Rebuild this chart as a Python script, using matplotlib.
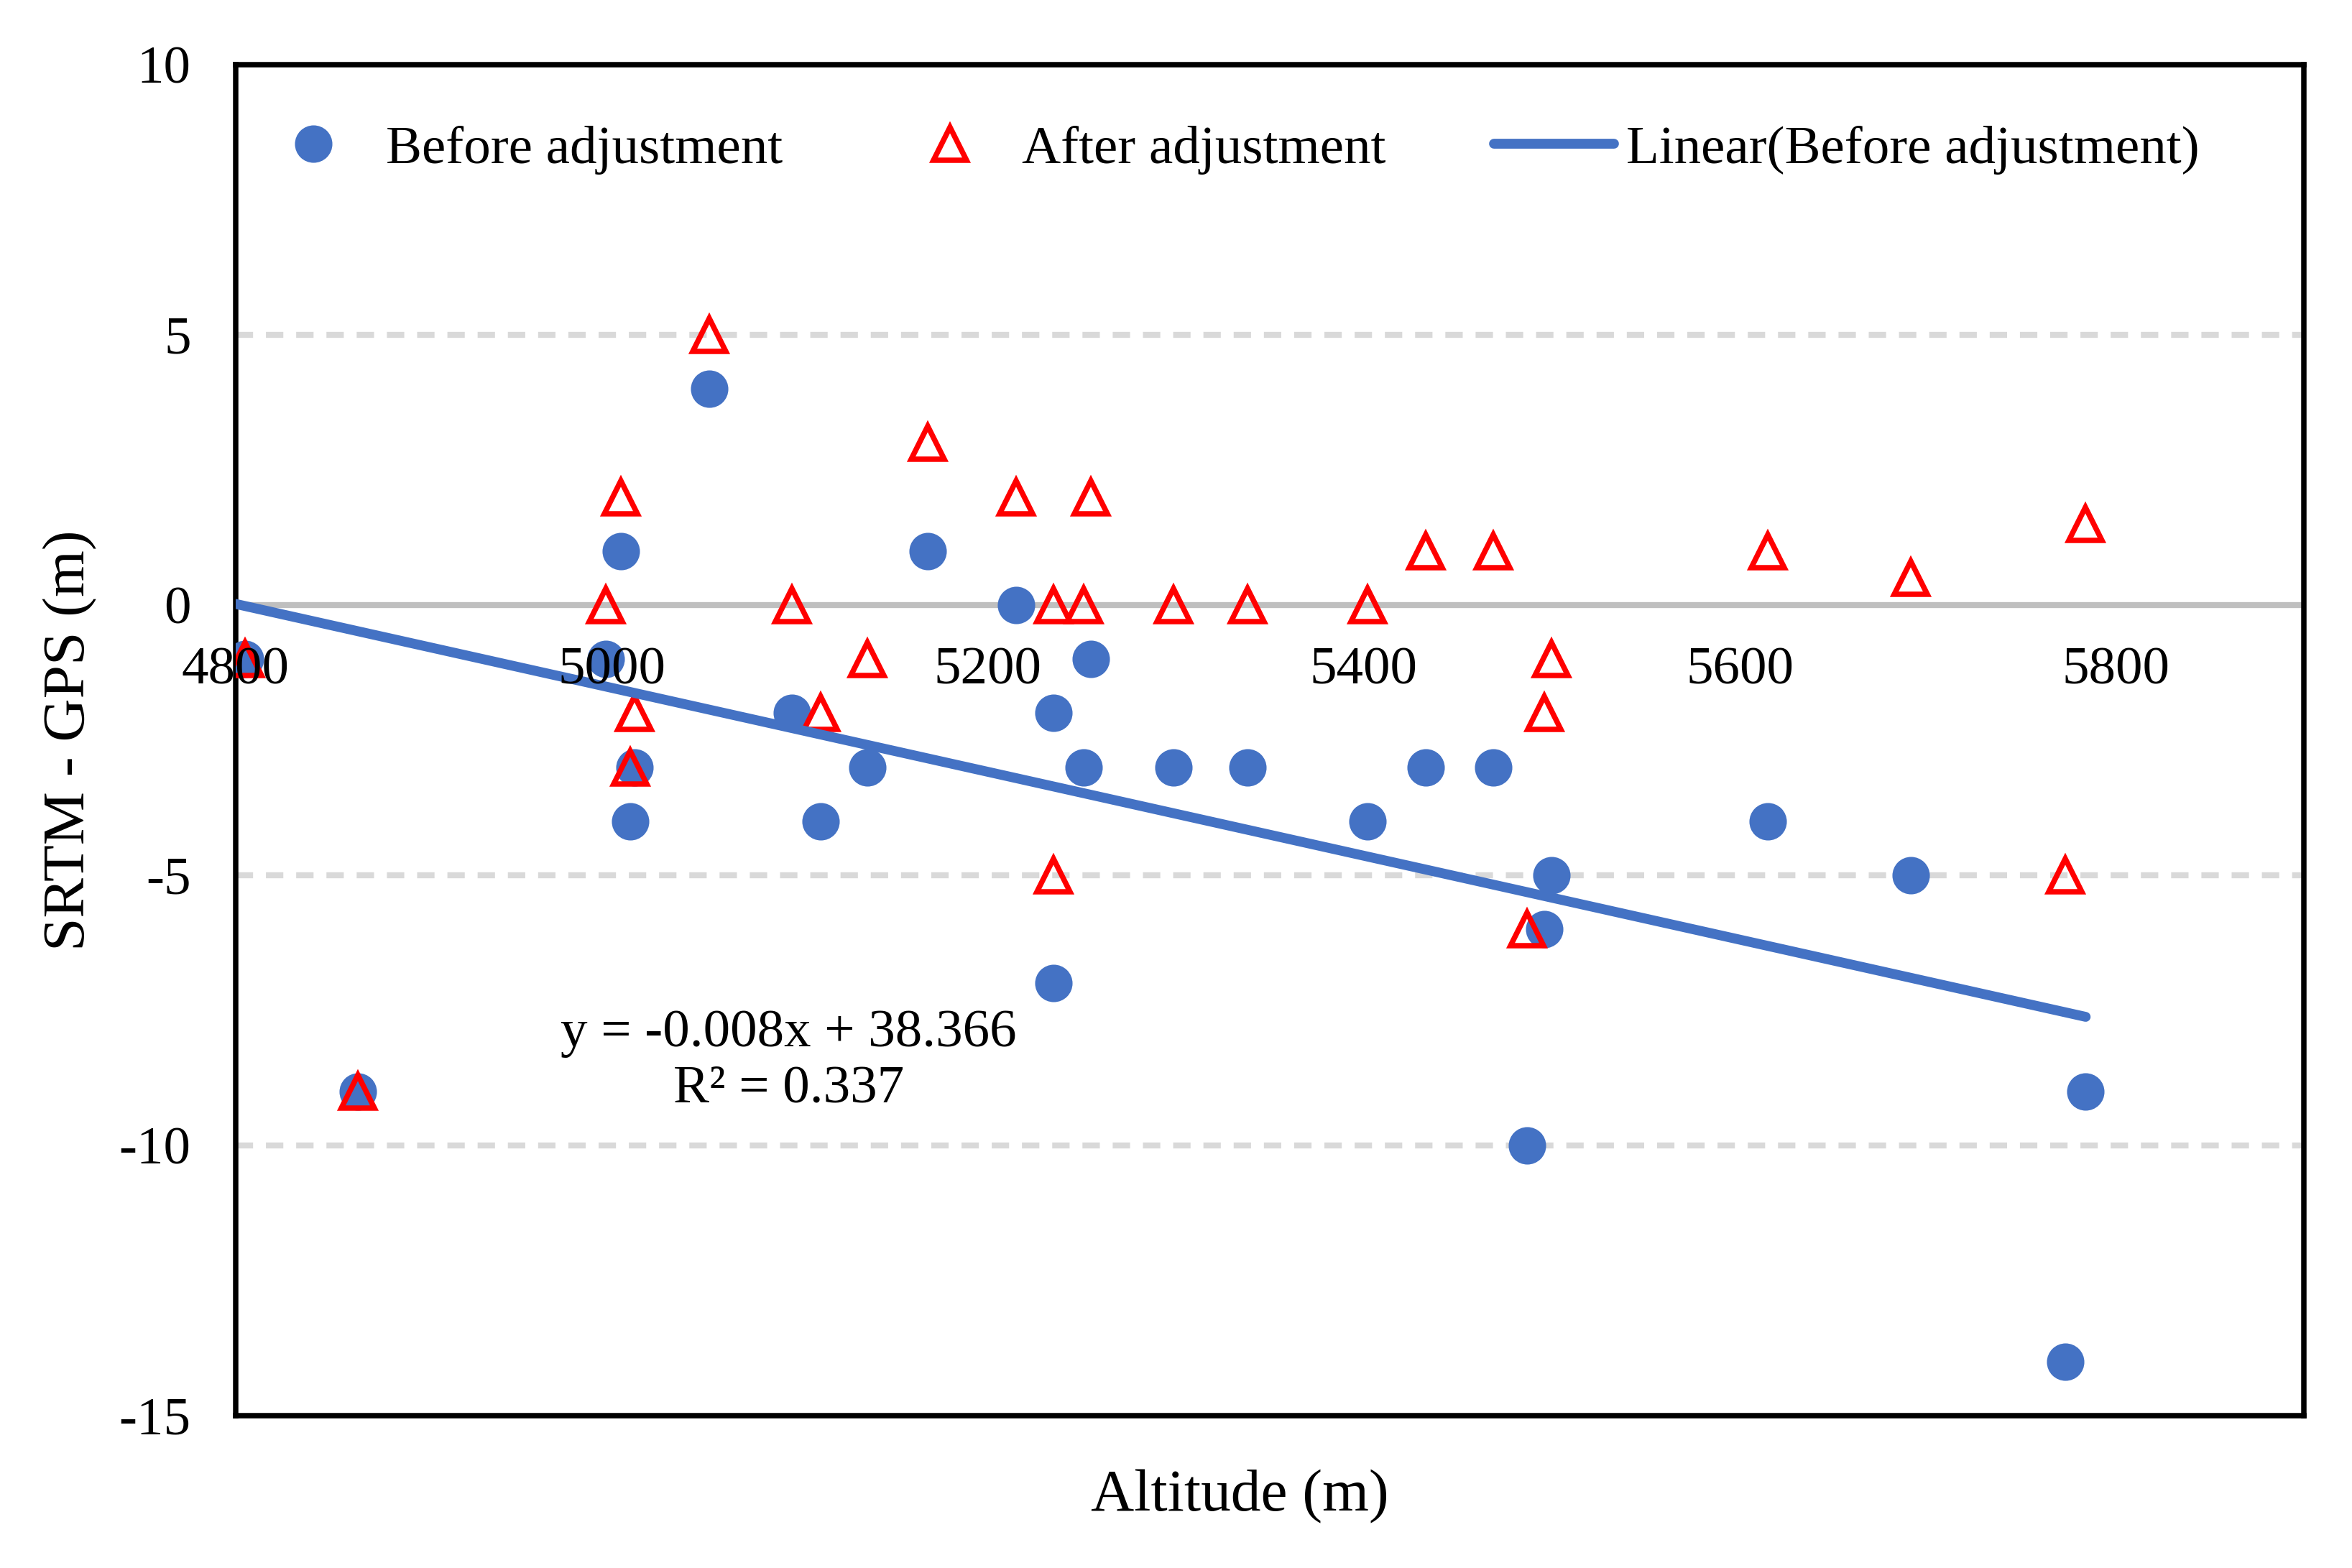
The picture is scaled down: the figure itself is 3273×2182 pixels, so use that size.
import numpy as np
import matplotlib
matplotlib.use("Agg")
import matplotlib.pyplot as plt

plt.rcParams['font.family'] = ['Liberation Serif', 'DejaVu Serif']
plt.rcParams['axes.unicode_minus'] = False

# altitude of each GPS point and SRTM - GPS error before / after adjustment
altitude = [4805, 4865, 4997, 5005, 5010, 5012, 5052, 5096, 5111, 5136,
            5168, 5215, 5235, 5235, 5251, 5255, 5299, 5338, 5402, 5433,
            5469, 5487, 5496, 5500, 5615, 5691, 5773, 5784]
before = [-1, -9, -1, 1, -4, -3, 4, -2, -4, -3,
          1, 0, -2, -7, -3, -1, -3, -3, -4, -3,
          -3, -10, -6, -5, -4, -5, -14, -9]
after = [-1, -9, 0, 2, -3, -2, 5, 0, -2, -1,
         3, 2, 0, -5, 0, 2, 0, 0, 0, 1,
         1, -6, -2, -1, 1, 0.5, -5, 1.5]

xticks = [4800, 5000, 5200, 5400, 5600, 5800]
yticks = [-15, -10, -5, 0, 5, 10]
eq_text = "y = -0.008x + 38.366\nR\u00b2 = 0.337"

blue = '#4472C4'
fs = 18

fig = plt.figure(figsize=(3273 / 300, 2182 / 300), dpi=300)
ax = fig.add_axes([0.1002, 0.0972, 0.8793, 0.8616])
ax.set_xlim(4800, 5900)
ax.set_ylim(-15, 10)

# grid lines: dashed at +-5, -10, solid grey at 0
for yv in yticks[1:-1]:
    if yv == 0:
        ax.axhline(yv, color='#BFBFBF', lw=2, zorder=1)
    else:
        ax.axhline(yv, color='#D9D9D9', lw=2, dashes=(2.9, 2.15), zorder=1)

x = np.array(altitude, dtype=float)
yb = np.array(before, dtype=float)
ax.plot(x, yb, 'o', color=blue, ms=11.5, mec=blue, zorder=3, label='Before adjustment')
ax.plot(x, after, '^', color='red', mfc='none', mec='red', ms=11, mew=1.8, zorder=4,
        label='After adjustment')

# linear trend of the "before" series
k, b = np.polyfit(x, yb, 1)
xs = np.array([ax.get_xlim()[0], x.max()])
ax.plot(xs, k * xs + b, color=blue, lw=3.3, solid_capstyle='round', zorder=5,
        label='Linear(Before adjustment)')

ax.text(5094, -8.45, eq_text, ha='center', va='center', multialignment='center',
        fontsize=fs, linespacing=1.2, zorder=6)

# x tick labels sit under the zero line
ax.set_xticks(xticks)
ax.tick_params(axis='x', length=0, labelbottom=False)
for t in xticks:
    ax.annotate(str(t), (t, 0), xytext=(0, -14), textcoords='offset points',
                ha='center', va='top', fontsize=fs, zorder=7, annotation_clip=False)

ax.set_yticks(yticks)
ax.set_yticklabels([str(v) for v in yticks])
ax.tick_params(axis='y', length=0, pad=15, labelsize=fs)

for sp in ax.spines.values():
    sp.set_linewidth(1.8)
    sp.set_color('black')

ax.set_xlabel('Altitude (m)', fontsize=20)
ax.xaxis.set_label_coords(0.4855, -0.04)
ax.set_ylabel('SRTM - GPS (m)', fontsize=20)
ax.yaxis.label.set_va('center')
ax.yaxis.set_label_coords(-0.08, 0.5)

ax.legend(loc='center', bbox_to_anchor=(0.479, 0.937), ncol=3, frameon=False,
          fontsize=fs, handlelength=2.23, handletextpad=0.22, columnspacing=2.0,
          borderpad=0, borderaxespad=0)

fig.savefig('out.png', dpi=300)
